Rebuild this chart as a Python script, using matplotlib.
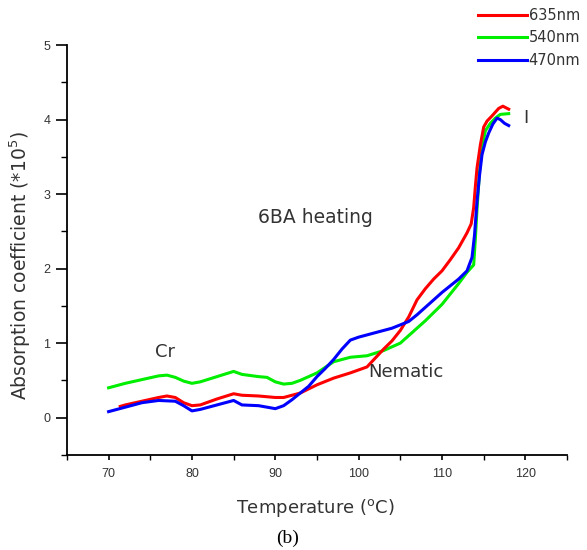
import matplotlib
matplotlib.use("Agg")
import matplotlib.pyplot as plt
from matplotlib.ticker import MultipleLocator

plt.rcParams['font.family'] = ['DejaVu Sans']

# datos
t_rojo = [71.4, 72, 74, 76, 77, 78, 79, 80, 81, 83, 85, 86, 88, 90, 91, 92, 93, 95, 97, 99,
          100, 101, 102, 103, 104, 105, 106, 107, 108, 109, 110, 111, 112, 113, 113.5, 113.8,
          114, 114.2, 114.6, 115, 115.4, 116, 116.8, 117.3, 118]
a_rojo = [0.15, 0.17, 0.22, 0.27, 0.29, 0.27, 0.20, 0.16, 0.17, 0.25, 0.32, 0.30, 0.29, 0.27,
          0.27, 0.30, 0.33, 0.44, 0.53, 0.60, 0.64, 0.68, 0.80, 0.92, 1.03, 1.17, 1.35, 1.58,
          1.73, 1.86, 1.97, 2.12, 2.28, 2.48, 2.60, 2.82, 3.10, 3.35, 3.66, 3.90, 3.98, 4.05,
          4.15, 4.18, 4.14]

t_verde = [70, 72, 74, 76, 77, 78, 79, 80, 81, 83, 85, 86, 88, 89, 90, 91, 92, 93, 95, 97, 99,
           101, 103, 105, 106, 107, 108, 110, 112, 113, 113.8, 114, 114.2, 114.5, 114.8, 115.2,
           115.8, 116.4, 117, 118]
a_verde = [0.40, 0.46, 0.51, 0.56, 0.57, 0.54, 0.49, 0.46, 0.48, 0.55, 0.62, 0.58, 0.55, 0.54,
           0.48, 0.45, 0.46, 0.50, 0.60, 0.75, 0.81, 0.83, 0.90, 1.00, 1.10, 1.20, 1.30, 1.52,
           1.80, 1.95, 2.05, 2.40, 2.80, 3.30, 3.62, 3.85, 3.95, 4.02, 4.07, 4.08]

t_azul = [70, 72, 74, 76, 78, 79, 80, 81, 83, 85, 86, 88, 90, 91, 92, 93, 94, 95, 96, 97, 98, 99,
          100, 102, 104, 106, 107, 108, 110, 112, 113, 113.6, 113.9, 114.2, 114.5, 114.8, 115.2,
          115.6, 116.1, 116.6, 117, 117.5, 118]
a_azul = [0.08, 0.14, 0.20, 0.23, 0.22, 0.16, 0.09, 0.11, 0.17, 0.23, 0.17, 0.16, 0.12, 0.16,
          0.24, 0.33, 0.42, 0.55, 0.66, 0.78, 0.92, 1.04, 1.08, 1.14, 1.20, 1.29, 1.38, 1.48,
          1.68, 1.86, 1.97, 2.15, 2.45, 2.90, 3.25, 3.53, 3.70, 3.82, 3.94, 4.02, 4.00, 3.95, 3.92]

gris = '#333333'

#Figura y ejes
fig = plt.figure(figsize=(5.87, 5.5), dpi=100)
ax = fig.add_axes([0.114, 0.173, 0.852, 0.745])

lv, = ax.plot(t_verde, a_verde, color='#00ee00', lw=2.2, label='540nm')
lr, = ax.plot(t_rojo, a_rojo, color='#ff0000', lw=2.2, label='635nm')
la, = ax.plot(t_azul, a_azul, color='#0000ff', lw=2.2, label='470nm')

ax.set_xlim(65, 125)
ax.set_ylim(-0.5, 5)
ax.xaxis.set_major_locator(MultipleLocator(10))
ax.xaxis.set_minor_locator(MultipleLocator(5))
ax.yaxis.set_major_locator(MultipleLocator(1))
ax.yaxis.set_minor_locator(MultipleLocator(0.5))
ax.set_xticks([70, 80, 90, 100, 110, 120])
ax.spines['top'].set_visible(False)
ax.spines['right'].set_visible(False)
for s in ['left', 'bottom']:
    ax.spines[s].set_linewidth(1.3)
ax.tick_params(which='major', direction='out', length=8, width=1.2, labelsize=9,
               labelcolor=gris, pad=4)
ax.tick_params(which='minor', direction='out', length=4.5, width=1.0)
ax.tick_params(axis='x', which='both', length=3.6, pad=6)
for lab in ax.get_xticklabels() + ax.get_yticklabels():
    lab.set_family('Liberation Sans')

#Etiquetas de los ejes
ax.set_xlabel(r'Temperature ($^{\mathrm{o}}$C)', fontsize=13, color=gris)
ax.set_ylabel(r'Absorption coefficient (*10$^{5}$)', fontsize=13.5, color=gris)
ax.xaxis.set_label_coords(0.496, -0.102)
ax.yaxis.set_label_coords(-0.068, 0.463)
fig.text(0.49, 0.022, '(b)', fontsize=14, family='Liberation Serif', ha='center', va='center')

#Textos dentro de la grafica
ax.text(87.9, 2.68, '6BA heating', fontsize=13.5, color=gris, va='center')
ax.text(75.6, 0.88, 'Cr', fontsize=13, color=gris, va='center')
ax.text(101.1, 0.61, 'Nematic', fontsize=13, color=gris, va='center')
ax.text(119.8, 4.02, 'I', fontsize=13, color=gris, va='center')

#Leyenda
fig.legend(handles=[lr, lv, la], loc='upper left', bbox_to_anchor=(0.792, 1.009),
           frameon=False, fontsize=10.5, handlelength=3.36, handletextpad=0.12,
           labelspacing=0.5, labelcolor=gris)

fig.savefig('out.png', dpi=100)
